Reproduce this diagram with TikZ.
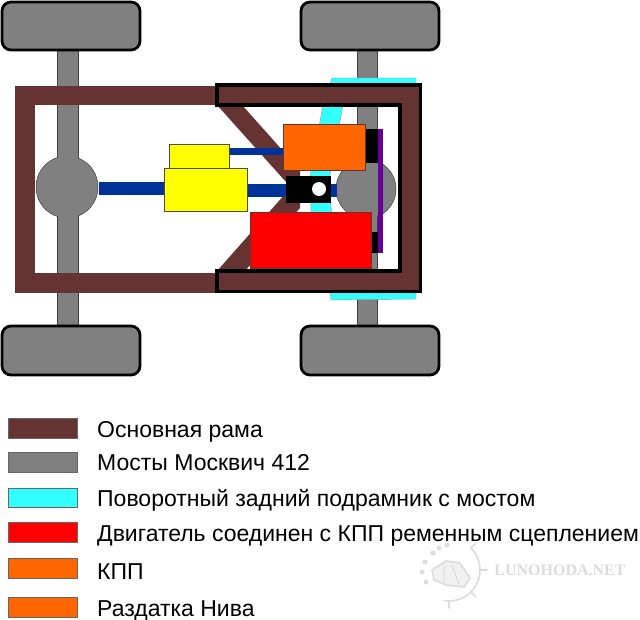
\documentclass[tikz,border=0pt]{standalone}
\usepackage{fontspec}
\setmainfont{Liberation Sans}
\newfontfamily\wmfont{Liberation Serif}
\definecolor{frameb}{HTML}{663333}
\definecolor{axleg}{HTML}{808080}
\definecolor{subc}{HTML}{33FFFF}
\definecolor{engr}{HTML}{FF0000}
\definecolor{kpp}{HTML}{FF6600}
\definecolor{shaft}{HTML}{003399}
\definecolor{yel}{HTML}{FFFF00}
\definecolor{purp}{HTML}{660099}
\definecolor{wmg}{HTML}{DCDCDC}
\tikzset{
  wheel/.style={fill=axleg,draw=black,line width=2.8pt,rounded corners=9pt},
  axle/.style={fill=axleg,draw=black!75,line width=0.5pt},
  cyanpart/.style={fill=subc,draw=black!40,line width=0.4pt},
  yelbox/.style={fill=yel,draw=black!70,line width=0.6pt},
  engbox/.style={fill=engr,draw=frameb,line width=0.6pt},
  kppbox/.style={fill=kpp,draw=frameb,line width=0.6pt},
  swatch/.style={draw=black!60,line width=0.5pt},
  legtext/.style={anchor=base west,inner sep=0pt,font=\fontsize{23}{26}\selectfont},
  wm/.style={wmg,line width=1.6pt,line cap=round}
}
\begin{document}
\begin{tikzpicture}[x=1pt,y=-1pt]
\useasboundingbox (0,0) rectangle (640,620);
% axles
\draw[axle] (57,48) rectangle (78,328);
\draw[axle] (67,187) circle (31);
\fill[axleg] (57.5,150) rectangle (77.5,225);
\draw[axle] (357,48) rectangle (377,328);
\draw[axle] (366,189) circle (30);
\fill[axleg] (357.5,150) rectangle (376.5,228);
% wheels
\draw[wheel] (2,2) rectangle (140,50);
\draw[wheel] (2,326) rectangle (140,375);
\draw[wheel] (301,2) rectangle (439,50);
\draw[wheel] (301,326) rectangle (439,375);
% rear subframe
\draw[cyanpart] (330,84) -- (332,78) -- (416,78) -- (416,84) -- cycle;
\draw[cyanpart] (330,293) -- (331,300) -- (416,299) -- (416,293) -- cycle;
\draw[cyanpart] (323,105) -- (343,105) -- (330,175) -- (331,207) -- (343,271) -- (324,271) -- (311,212) -- (310,176) -- cycle;
% frame, left
\fill[frameb] (15,86) rectangle (220,105);
\fill[frameb] (15,273) rectangle (220,293);
\fill[frameb] (15,86) rectangle (35,293);
% diagonal braces
\fill[frameb] (217,105) -- (242,105) -- (300,170) -- (300,182) -- (286,182) -- cycle;
\fill[frameb] (217,271) -- (245,271) -- (300,208) -- (300,193) -- (286,193) -- cycle;
% frame, right
\fill[frameb] (216,85) -- (421,85) -- (421,292) -- (216,292) -- (216,271) -- (399,271) -- (399,105) -- (216,105) -- cycle;
\draw[black,line width=3.4pt] (400,271) -- (217,271) -- (217,291.5) -- (420.5,291.5) -- (420.5,85) -- (217,85) -- (217,105) -- (400,105) -- cycle;
% shafts
\fill[shaft] (99,182) rectangle (165,195);
\fill[shaft] (246,184) rectangle (286,197);
\fill[shaft] (329,184) rectangle (337,197);
\fill[shaft] (229,148) rectangle (283,155);
% yellow boxes
\node[yelbox,minimum width=60pt,minimum height=24pt,inner sep=0pt] (upy) at (199,156) {};
\node[yelbox,minimum width=83pt,minimum height=43pt,inner sep=0pt] (loy) at (205.5,189.5) {};
% kpp
\fill[black] (365,129) rectangle (378,163);
\node[kppbox,minimum width=82pt,minimum height=46pt,inner sep=0pt] (kp) at (324,147) {};
% engine
\fill[black] (371,232) rectangle (378,253);
\node[engbox,minimum width=121pt,minimum height=56pt,inner sep=0pt] (en) at (310.5,240) {};
% purple belt
\fill[purp] (378,129) rectangle (383,253);
% transfer box
\fill[black] (286,176) rectangle (331,203);
\fill[white] (319,189) circle (7);
% legend
\draw[swatch,fill=frameb] (8,418) rectangle (77,438);
\draw[swatch,fill=axleg] (8,452) rectangle (77,472);
\draw[swatch,fill=subc] (8,488) rectangle (77,507);
\draw[swatch,fill=engr] (8,522) rectangle (77,542);
\draw[swatch,fill=kpp] (8,558) rectangle (77,578);
\draw[swatch,fill=kpp] (8,597) rectangle (77,617);
\node[legtext] (t1) at (97,437) {Основная рама};
\node[legtext] (t2) at (97,470) {Мосты Москвич 412};
\node[legtext] (t3) at (97,506) {Поворотный задний подрамник с мостом};
\node[legtext] (t4) at (97,541) {Двигатель соединен с КПП ременным сцеплением};
\node[legtext] (t5) at (97,579) {КПП};
\node[legtext] (t6) at (97,616) {Раздатка Нива};
% watermark
\draw[wm] (449,570) ++(-45:31) arc (-45:100:31);
\foreach \a in {-45,0,45,90} \draw[wm] (449,570) ++(\a:31) -- ++(\a:7);
\draw[wm,fill=wmg!40] (432,570) -- (446,561) -- (460,563) -- (470,578) -- (464,587) -- (446,585) -- (434,580) -- cycle;
\draw[wm,line width=1pt] (452,566) -- (459,584) (444,565) -- (444,584);
\foreach \x/\y in {447/545,439/548,433/553,425/562,422/572,426/582} \fill[wmg] (\x,\y) circle (2.5);
\node[wmg,inner sep=0pt,font=\wmfont\bfseries\fontsize{16}{16}\selectfont] (wmt) at (560,570) {LUNOHODA.NET};
\end{tikzpicture}
\end{document}
